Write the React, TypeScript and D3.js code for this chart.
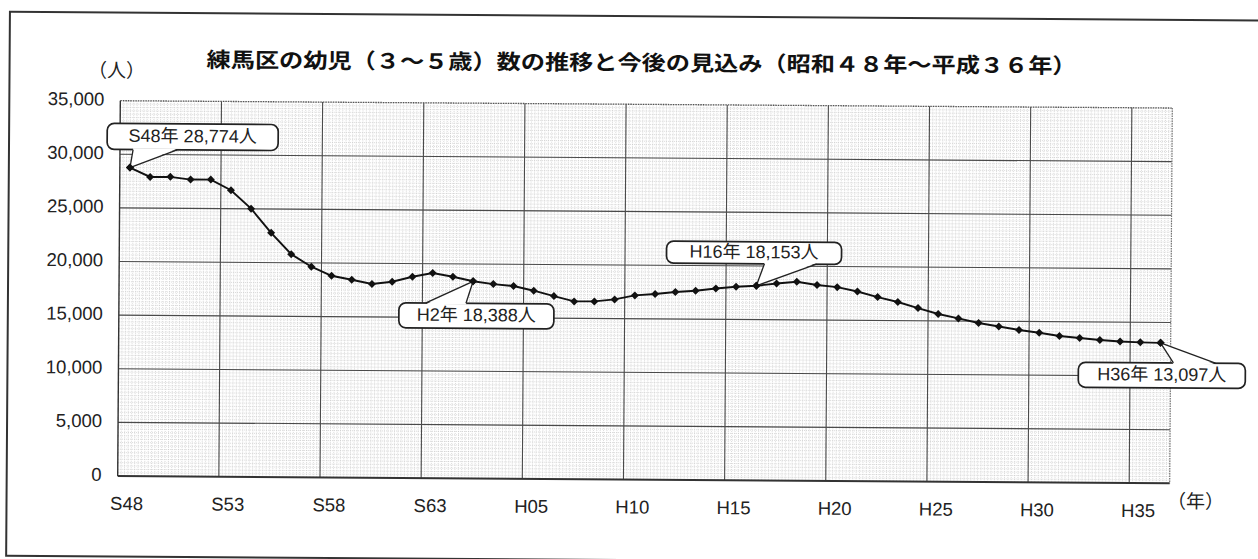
import React from "react";
import * as d3 from "d3";

// ---- data ----
const categories: string[] = [
  "S48","S49","S50","S51","S52","S53","S54","S55","S56","S57","S58","S59","S60","S61","S62","S63",
  "H1","H2","H3","H4","H5","H6","H7","H8","H9","H10","H11","H12","H13","H14","H15","H16",
  "H17","H18","H19","H20","H21","H22","H23","H24","H25","H26","H27","H28","H29","H30","H31","H32",
  "H33","H34","H35","H36",
];
const children: number[] = [
  28774, 27910, 27930, 27690, 27700, 26720, 25020, 22780, 20800, 19640, 18810, 18450, 18070, 18290, 18770, 19130,
  18800, 18388, 18140, 17970, 17550, 17060, 16580, 16590, 16790, 17180, 17320, 17520, 17650, 17870, 18050, 18153,
  18380, 18550, 18270, 18080, 17690, 17180, 16730, 16180, 15640, 15240, 14830, 14520, 14200, 13960, 13670, 13490,
  13320, 13200, 13130, 13097,
];
const tickCategories: string[] = ["S48","S53","S58","S63","H5","H10","H15","H20","H25","H30","H35"];
const tickLabels: string[] = ["S48","S53","S58","S63","H05","H10","H15","H20","H25","H30","H35"];
const yTicks: number[] = [0, 5000, 10000, 15000, 20000, 25000, 30000, 35000];
const calloutCategories: string[] = ["S48", "H2", "H16", "H36"];

const title = "練馬区の幼児（３～５歳）数の推移と今後の見込み（昭和４８年～平成３６年）";
const yUnit = "（人）";
const xUnit = "（年）";

// ---- layout ----
const W = 1258, H = 559;
const L = 119, R = 1171, T = 100.7, B = 476;
const latin = "'Liberation Sans', Arial, 'Noto Sans CJK JP', sans-serif";
const cjk = "'Noto Sans CJK JP', 'Liberation Sans', sans-serif";

// callout box geometry relative to its point: [x0, x1, y0, y1], base of pointer [bx0, bx1], side
const calloutLayout: Record<string, { box: number[]; base: number[]; side: "top" | "bottom" }> = {
  S48: { box: [-23, 148, -44, -18], base: [3, 47], side: "bottom" },
  H2: { box: [-74, 81, 22, 47], base: [-47, -7], side: "top" },
  H16: { box: [-90, 85, -44, -22], base: [8, 60], side: "bottom" },
  H36: { box: [-82, 85, 20, 45], base: [13, 55], side: "top" },
};

export default function App() {
  const x = d3.scaleBand<string>().domain(categories).range([L, R]).padding(0);
  const bw = x.bandwidth();
  const cx = (c: string) => (x(c) as number) + bw / 2;
  const y = d3.scaleLinear().domain([0, 35000]).range([B, T]);

  const pts = categories.map((c, i) => [cx(c), y(children[i])] as [number, number]);
  const line = d3.line()(pts) as string;
  const marker = d3.symbol().type(d3.symbolSquare).size(32)() as string;

  // minor grid
  const minorV: number[] = [];
  for (let i = 0; i <= categories.length * 6; i++) minorV.push(L + (i * bw) / 6);
  const minorH: number[] = d3.range(0, 35000 + 1, 5000 / 16);
  // major verticals at band edges every 5 categories
  const majorV: number[] = [];
  for (let i = 5; i < categories.length; i += 5) majorV.push(x(categories[i]) as number);

  const fmt = d3.format(",");

  return (
    <svg width={W} height={H} style={{ position: "absolute", left: 0, top: 0, background: "#fff" }}>
      <g transform="rotate(0.4, 120, 290)">
        {/* outer frame */}
        <rect x={8} y={12.5} width={1262} height={544} fill="none" stroke="#333" strokeWidth={2} />

        {/* title */}
        <text x={640} y={61} textAnchor="middle" dominantBaseline="middle" fontFamily={cjk}
          fontWeight={700} fontSize={21} fill="#111" textLength={870} lengthAdjust="spacingAndGlyphs">
          {title}
        </text>

        {/* plot background grid */}
        <g>
          {minorV.map((v, i) => (
            <line key={"mv" + i} x1={v} x2={v} y1={T} y2={B} stroke="#c2c2c2" strokeWidth={0.6} strokeDasharray="1 1" />
          ))}
          {minorH.map((v, i) => (
            <line key={"mh" + i} x1={L} x2={R} y1={y(v)} y2={y(v)} stroke="#c2c2c2" strokeWidth={0.6} strokeDasharray="1 1" />
          ))}
          {yTicks.filter((v) => v > 0 && v < 35000).map((v) => (
            <line key={"gh" + v} x1={L} x2={R} y1={y(v)} y2={y(v)} stroke="#4a4a4a" strokeWidth={1.1} />
          ))}
          {majorV.map((v, i) => (
            <line key={"gv" + i} x1={v} x2={v} y1={T} y2={B} stroke="#4a4a4a" strokeWidth={1.1} />
          ))}
          {/* top and right dotted borders */}
          <line x1={L} x2={R} y1={y(35000)} y2={y(35000)} stroke="#555" strokeWidth={1.3} strokeDasharray="1.5 1" />
          <line x1={R} x2={R} y1={T} y2={B} stroke="#777" strokeWidth={1.2} strokeDasharray="1.5 1" />
          {/* axes */}
          <line x1={L} x2={L} y1={T} y2={B} stroke="#333" strokeWidth={1.4} />
          <line x1={L} x2={R} y1={B} y2={B} stroke="#333" strokeWidth={2} />
        </g>

        {/* y ticks */}
        {yTicks.map((v) => (
          <text key={"yt" + v} x={103} y={y(v)} textAnchor="end" dominantBaseline="middle"
            fontFamily={latin} fontSize={18.5} fill="#222">{fmt(v)}</text>
        ))}
        <text x={115} y={72} textAnchor="middle" dominantBaseline="middle" fontFamily={cjk} fontSize={19} fill="#222">{yUnit}</text>

        {/* x ticks */}
        {tickCategories.map((c, i) => (
          <text key={"xt" + c} x={cx(c) - 1} y={505} textAnchor="middle" dominantBaseline="middle"
            fontFamily={latin} fontSize={18.5} fill="#222">{tickLabels[i]}</text>
        ))}
        <text x={1197} y={495.5} textAnchor="middle" dominantBaseline="middle" fontFamily={cjk} fontSize={19} fill="#222">{xUnit}</text>

        {/* data line */}
        <path d={line} fill="none" stroke="#111" strokeWidth={1.9} />
        {pts.map((p, i) => (
          <path key={"m" + i} d={marker} transform={`translate(${p[0]},${p[1]}) rotate(45)`} fill="#111" />
        ))}

        {/* callouts */}
        {calloutCategories.map((c) => {
          const i = categories.indexOf(c);
          const [px, py] = pts[i];
          const lay = calloutLayout[c];
          const [x0, x1, y0, y1] = lay.box;
          const by = lay.side === "top" ? py + y0 : py + y1;
          const inset = lay.side === "top" ? 1.2 : -1.2;
          const b0 = px + lay.base[0], b1 = px + lay.base[1];
          return (
            <g key={"c" + c}>
              <rect x={px + x0} y={py + y0} width={x1 - x0} height={y1 - y0} rx={7} ry={7}
                fill="#fff" stroke="#222" strokeWidth={1.7} />
              <polygon points={`${b0},${by + inset} ${b1},${by + inset} ${px},${py}`} fill="#fff" />
              <line x1={b0} y1={by} x2={px} y2={py} stroke="#222" strokeWidth={1.3} />
              <line x1={b1} y1={by} x2={px} y2={py} stroke="#222" strokeWidth={1.3} />
              <text x={px + (x0 + x1) / 2} y={py + (y0 + y1) / 2 + 0.5} textAnchor="middle" dominantBaseline="middle"
                fontFamily={latin} fontSize={18} fill="#222">
                {`${c}年 ${fmt(children[i])}人`}
              </text>
            </g>
          );
        })}
        {/* redraw markers at callout points on top */}
        {calloutCategories.map((c) => {
          const p = pts[categories.indexOf(c)];
          return <path key={"cm" + c} d={marker} transform={`translate(${p[0]},${p[1]}) rotate(45)`} fill="#111" />;
        })}
      </g>
    </svg>
  );
}
